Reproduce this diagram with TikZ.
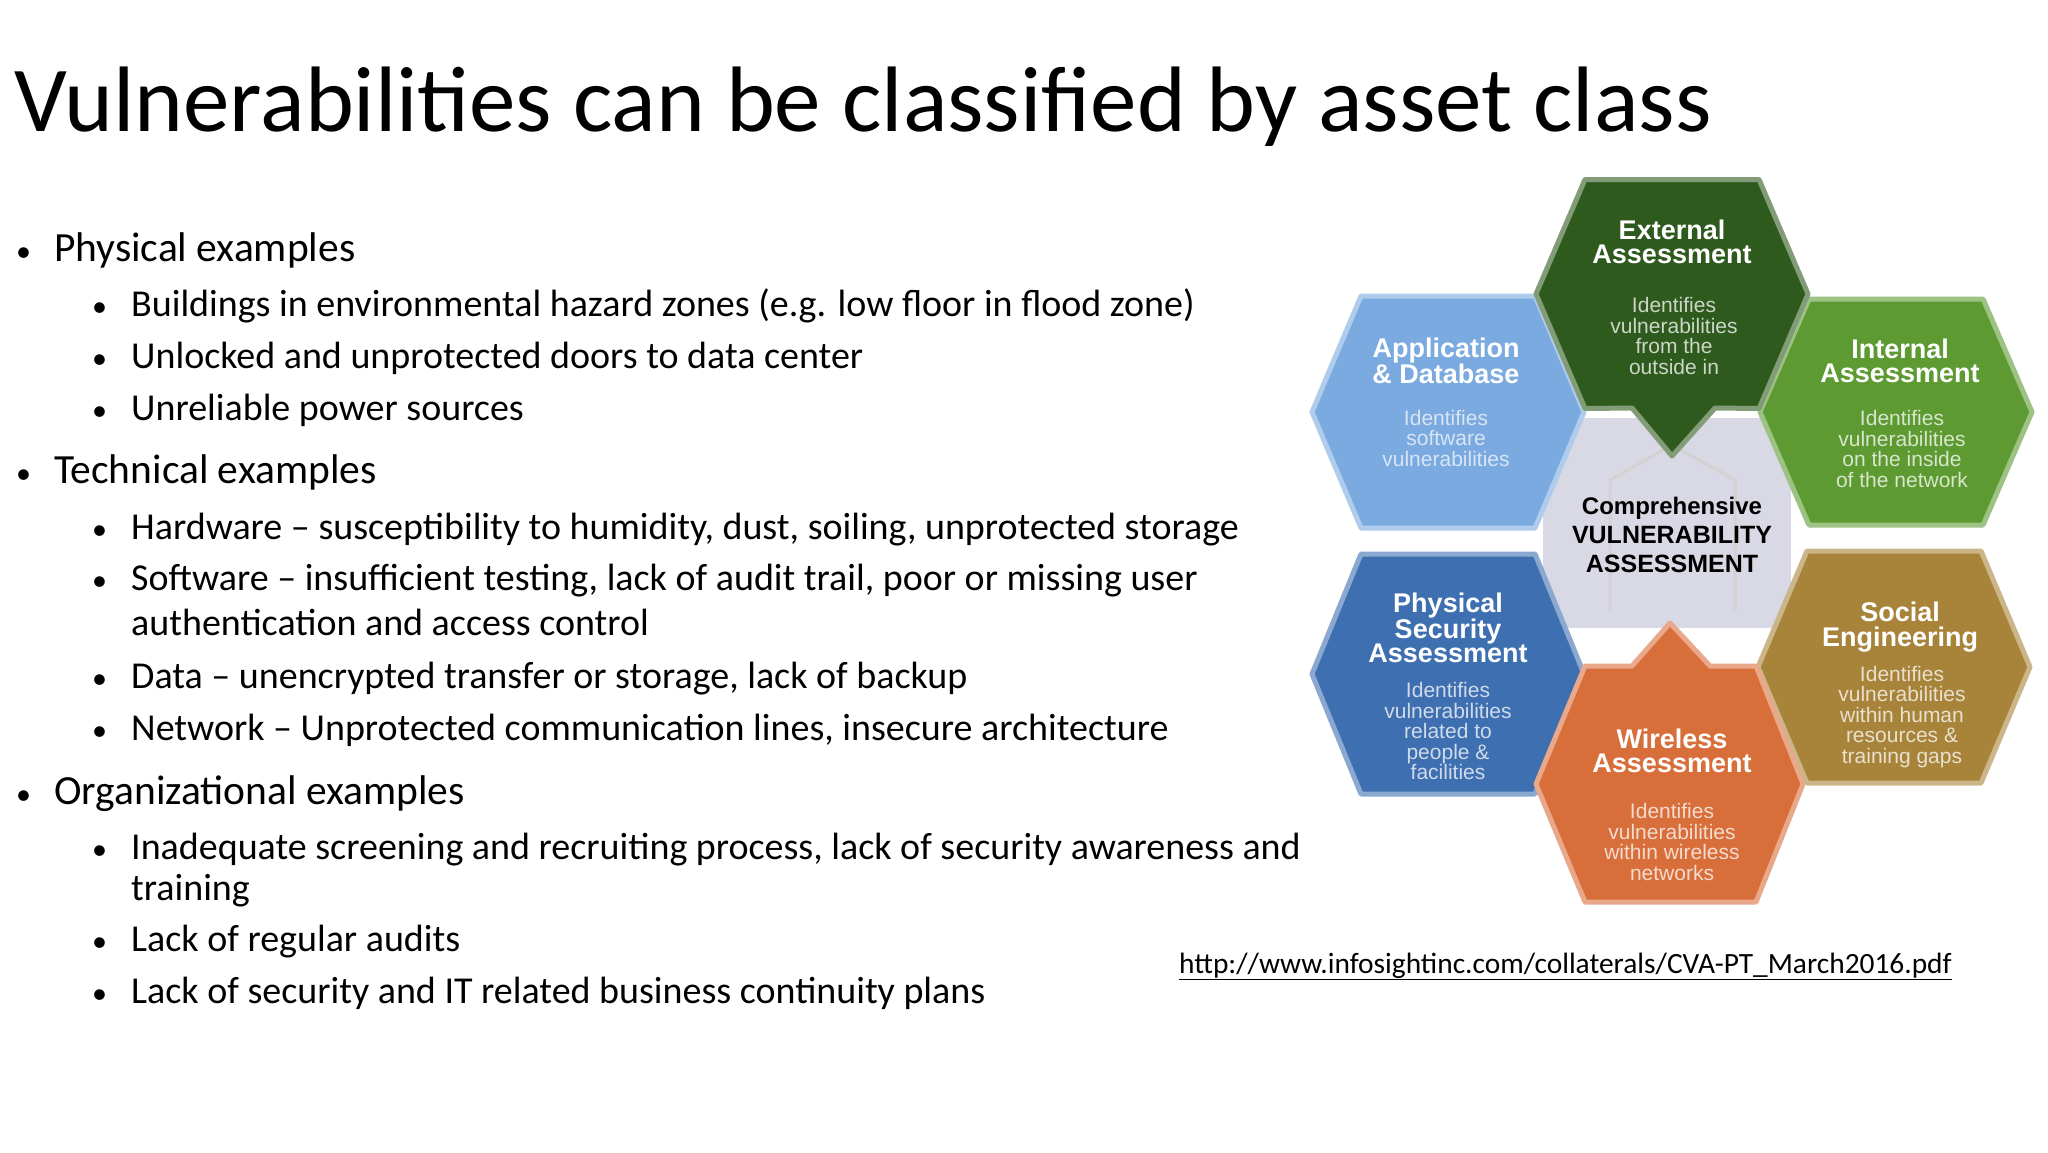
\documentclass[tikz,border=0pt]{standalone}
\usepackage{fontspec}
\setmainfont{Carlito}
\newfontfamily\hexfont{Liberation Sans}
\definecolor{cExt}{HTML}{2F5A1E}
\definecolor{cApp}{HTML}{7AAADF}
\definecolor{cInt}{HTML}{5E9A32}
\definecolor{cPhy}{HTML}{3E6FB0}
\definecolor{cSoc}{HTML}{A8843A}
\definecolor{cWir}{HTML}{D86E3A}
\newcommand\hexshape[6]{% color, cx, cy, w, h, extra
  \filldraw[fill=#1, draw=#1!60!white, line width=5pt, line join=round]
   (#2-#4/2,#3) -- (#2-#4/2+0.18*#4,#3-#5/2) -- (#2+#4/2-0.18*#4,#3-#5/2) -- (#2+#4/2,#3)
   -- (#2+#4/2-0.18*#4,#3+#5/2) #6 -- (#2-#4/2+0.18*#4,#3+#5/2) -- cycle;}
\tikzset{
  lvlone/.style={anchor=base west, inner sep=0, font=\fontsize{41.5}{41.5}\selectfont},
  lvltwo/.style={anchor=base west, inner sep=0, font=\fontsize{38}{38}\selectfont},
  dotone/.style={anchor=base west, inner sep=0, font=\fontsize{30}{30}\selectfont},
  hextitle/.style={align=center, text=white, font=\hexfont\bfseries\fontsize{27}{24.5}\selectfont},
  hexbody/.style={align=center, font=\hexfont\fontsize{21}{20.5}\selectfont},
}
\begin{document}
\begin{tikzpicture}[x=1pt,y=-1pt]
\fill[white] (0,0) rectangle (2048,1152);
\useasboundingbox (0,0) rectangle (2048,1152);
\node[anchor=base west, inner sep=0, font=\fontsize{93}{93}\selectfont] (title) at (14,131) {Vulnerabilities can be classified by asset class};
% bullets
\foreach \y/\t in {261/Physical examples, 483/Technical examples, 804/Organizational examples}
  {\node[lvlone] at (54,\y) {\t}; \node[dotone] at (16,\y) {•};}
\foreach \y/\t in {
 316/{Buildings in environmental hazard zones (e.g. low floor in flood zone)},
 368/{Unlocked and unprotected doors to data center},
 420/{Unreliable power sources},
 539/{Hardware – susceptibility to humidity, dust, soiling, unprotected storage},
 590/{Software – insufficient testing, lack of audit trail, poor or missing user},
 688/{Data – unencrypted transfer or storage, lack of backup},
 740/{Network – Unprotected communication lines, insecure architecture},
 859/{Inadequate screening and recruiting process, lack of security awareness and},
 951/{Lack of regular audits},
 1003/{Lack of security and IT related business continuity plans}}
  {\node[lvltwo] at (131,\y) {\t}; \node[dotone] at (92,\y) {•};}
\node[lvltwo] at (131,635) {authentication and access control};
\node[lvltwo] at (131,900) {training};
% url
\node[anchor=base west, inner sep=0, font=\fontsize{29.4}{29}\selectfont] (url) at (1179,973)
  {\underline{http://www.infosightinc.com/collaterals/CVA-PT\_March2016.pdf}};
% centre background
\fill[blue!20!gray!25!white] (1543,418) rectangle (1791,628);
\draw[gray!35, line width=3pt] (1610,610) -- (1610,480) -- (1672,445) -- (1735,480) -- (1735,610);
% hexagons
\hexshape{cApp}{1448}{412}{272}{232}{}
\hexshape{cInt}{1896}{412}{272}{226}{}
\hexshape{cPhy}{1448}{674}{272}{240}{}
\hexshape{cSoc}{1894}{667}{272}{232}{}
\hexshape{cExt}{1672}{294}{272}{229}{-- (1715,408) -- (1672,456) -- (1632,408)}
\filldraw[fill=cWir, draw=cWir!60!white, line width=5pt, line join=round]
  (1536,784) -- (1585,666) -- (1632,666) -- (1670,623) -- (1710,666) -- (1756,666) -- (1803,784)
  -- (1756,902) -- (1585,902) -- cycle;
% centre text
\node[align=center, font=\hexfont\bfseries\fontsize{25}{29}\selectfont, text=black] (centre) at (1672,535)
  {\fontsize{24}{29}\selectfont Comprehensive\\VULNERABILITY\\ASSESSMENT};
% hex texts
\node[hextitle] (tExt) at (1672,242) {External\\Assessment};
\node[hexbody, text=cExt!25!white] (bExt) at (1674,336) {Identifies\\vulnerabilities\\from the\\outside in};
\node[hextitle] (tApp) at (1446,361) {Application\\\& Database};
\node[hexbody, text=cApp!30!white] (bApp) at (1446,438) {Identifies\\software\\vulnerabilities};
\node[hextitle] (tInt) at (1900,361) {Internal\\Assessment};
\node[hexbody, text=cInt!25!white] (bInt) at (1902,449) {Identifies\\vulnerabilities\\on the inside\\of the network};
\node[hextitle] (tPhy) at (1448,628) {Physical\\Security\\Assessment};
\node[hexbody, text=cPhy!25!white] (bPhy) at (1448,731) {Identifies\\vulnerabilities\\related to\\people \&\\facilities};
\node[hextitle] (tSoc) at (1900,627) {Social\\Engineering};
\node[hexbody, text=cSoc!25!white] (bSoc) at (1902,717) {Identifies\\vulnerabilities\\within human\\resources \&\\training gaps};
\node[hextitle] (tWir) at (1672,751) {Wireless\\Assessment};
\node[hexbody, text=cWir!25!white] (bWir) at (1672,842) {Identifies\\vulnerabilities\\within wireless\\networks};
\end{tikzpicture}
\end{document}
